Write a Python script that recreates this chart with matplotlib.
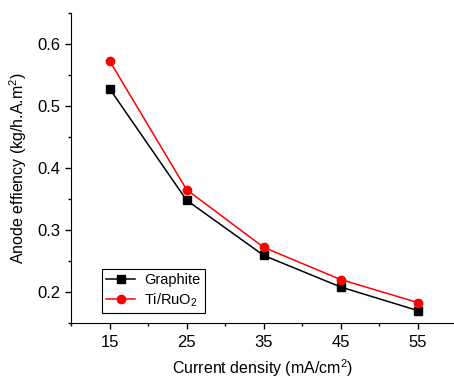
import matplotlib
matplotlib.use("Agg")
from matplotlib import pyplot as plt
from matplotlib.ticker import MultipleLocator

plt.rcParams['font.family'] = ['Liberation Sans', 'DejaVu Sans']
plt.rcParams['mathtext.fontset'] = 'custom'
plt.rcParams['mathtext.rm'] = 'Liberation Sans'

# data
current_density = [15, 25, 35, 45, 55]
graphite = [0.528, 0.348, 0.259, 0.208, 0.170]
ti_ruo2 = [0.573, 0.365, 0.272, 0.220, 0.183]

fig = plt.figure(figsize=(4.54, 3.79), dpi=100)
ax = fig.add_axes([0.1564, 0.1478, 0.8436, 0.818])

ax.plot(current_density, graphite, color='black', marker='s', markersize=5.5, lw=1.1, label='Graphite')
ax.plot(current_density, ti_ruo2, color='red', marker='o', markersize=6, lw=1.1, label='Ti/RuO$_2$')

ax.set_xlim(10, 59.7)
ax.set_ylim(0.15, 0.65)
ax.set_xticks(current_density)
ax.xaxis.set_minor_locator(MultipleLocator(5))
ax.yaxis.set_major_locator(MultipleLocator(0.1))
ax.yaxis.set_minor_locator(MultipleLocator(0.05))
ax.tick_params(which='major', direction='out', length=4, width=1, labelsize=12)
ax.tick_params(which='minor', direction='out', length=2.5, width=1)
ax.tick_params(axis='x', pad=5)
ax.spines['top'].set_visible(False)
ax.spines['right'].set_visible(False)

ax.set_xlabel('Current density (mA/cm$^2$)', fontsize=11.5, labelpad=5)
ax.set_ylabel('Anode effiency (kg/h.A.m$^2$)', fontsize=11.5, labelpad=6)

leg = ax.legend(loc='lower left', bbox_to_anchor=(0.08, 0.031), fontsize=10.5,
                fancybox=False, edgecolor='black', framealpha=1,
                borderaxespad=0, handlelength=2.0, handletextpad=0.6,
                borderpad=0.3, labelspacing=0.3)
leg.get_frame().set_linewidth(0.8)

plt.savefig('out.png', dpi=100)
